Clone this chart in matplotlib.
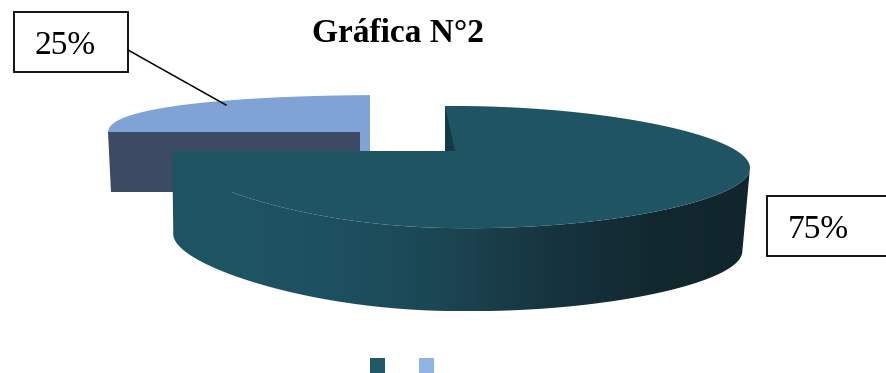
import numpy as np
import matplotlib
matplotlib.use("Agg")
import matplotlib.pyplot as plt
from matplotlib.patches import Polygon, Rectangle
from matplotlib.colors import LinearSegmentedColormap

plt.rcParams['font.family'] = ['Liberation Serif', 'DejaVu Serif']

chart_title = "Gráfica N°2"
share_values = [75, 25]
share_colors = ["#1f5563", "#7fa3d4"]
legend_colors = ["#215968", "#8db4e2"]
small_wall_color = "#3c4a63"
big_wall_stops = [0, 0.23, 0.40, 0.49, 0.66, 0.84, 1]
big_wall_shades = ["#1f5563", "#1e5262", "#1c4a58", "#1b4450", "#16343f", "#12282f", "#10252c"]

# pie plane -> pixels, y carries the perspective, the right side sags a little
cx, cy = 445, 151
kx, ky = -0.0557, 0.262
ax_len, by_len = 288, 56.8
right_sag = 17

def project(x, y):
    px = cx + ax_len * x / (1 + kx * x)
    py = cy - by_len * y / (1 + ky * y + kx * x) + right_sag * np.clip(x, 0, None) ** 2
    return px, py

def arc(start, end, n=400):
    t = np.radians(np.linspace(start, end, n))
    return project(np.cos(t), np.sin(t))

def lower(px, py, depth):
    lean = np.where(px > cx, 0.975, 0.996)
    return cx + (px - cx) * lean, py + depth

fig = plt.figure(figsize=(8.87, 3.73), dpi=100)
ax = fig.add_axes([0, 0, 1, 1])

# slice angles, clockwise from twelve o'clock
sweep = [v / sum(share_values) * 360 for v in share_values]
big_start, big_end = 90, 90 - sweep[0]
small_start, small_end = big_end, big_end - sweep[1]

# small slice, pulled away from the centre and seen a bit smaller
vx, vy = 370, 132
ux, uy = arc(small_start, small_end)
sx = vx + (ux - cx) * 0.96
sy = vy + (uy - cy) * 0.82
low_x, low_y = sx[0] + 3, sy[0] + 60
ax.add_patch(Polygon([(sx[0], vy), (vx - 10, vy), (vx - 10, vy + 60), (low_x, low_y)],
                     fc=small_wall_color, ec="none", zorder=2))
ax.add_patch(Rectangle((vx - 10, vy), 10, 22, fc=share_colors[1], ec="none", zorder=2))
ax.add_patch(Polygon(np.r_[[[vx, vy]], np.c_[sx, sy]], fc=share_colors[1], ec="none", zorder=3))

# big slice wall, shaded left to right
bx, by = arc(big_start, big_end)
right = np.argmax(bx)
wx, wy = bx[right:], by[right:]
lx, ly = lower(wx, wy, 83)
wall = Polygon(np.r_[np.c_[wx, wy], np.c_[lx, ly][::-1]], fc="none", ec="none", zorder=4)
ax.add_patch(wall)
cmap = LinearSegmentedColormap.from_list("wall", list(zip(big_wall_stops, big_wall_shades)))
img = ax.imshow(np.linspace(0, 1, 256)[None, :], cmap=cmap, aspect="auto", zorder=4,
                extent=(wx.min(), wx.max(), ly.max(), wy.min()))
img.set_clip_path(wall)

# big slice top, with the dark cut by the notch
ax.add_patch(Polygon(np.r_[[[cx, cy]], np.c_[bx, by]], fc=share_colors[0], ec="none", zorder=5))
ax.add_patch(Polygon([(bx[0], by[0]), (cx, cy), (cx + 10, cy)], fc="#123b47", ec="none", zorder=6))

ax.text(397.5, 34, chart_title, ha="center", va="center", fontsize=24, fontweight="bold", zorder=8)

# callout boxes
ax.add_patch(Rectangle((14, 12), 114, 60, fc="white", ec="black", lw=1.3, zorder=8))
ax.text(35, 46, f"{share_values[1]}%", ha="left", va="center", fontsize=24, zorder=9)
ax.plot([128, 226], [50, 105], color="black", lw=1.1, zorder=8)
ax.add_patch(Rectangle((767, 196), 130, 60, fc="white", ec="black", lw=1.3, zorder=8))
ax.text(788, 230, f"{share_values[0]}%", ha="left", va="center", fontsize=24, zorder=9)

# legend keys, no text beside them
for key_x, c in zip([370, 419], legend_colors):
    ax.add_patch(Rectangle((key_x, 358), 15, 15, fc=c, ec="none", zorder=8))

ax.set_xlim(0, 887)
ax.set_ylim(373, 0)
ax.axis("off")
fig.savefig("out.png", dpi=100)
